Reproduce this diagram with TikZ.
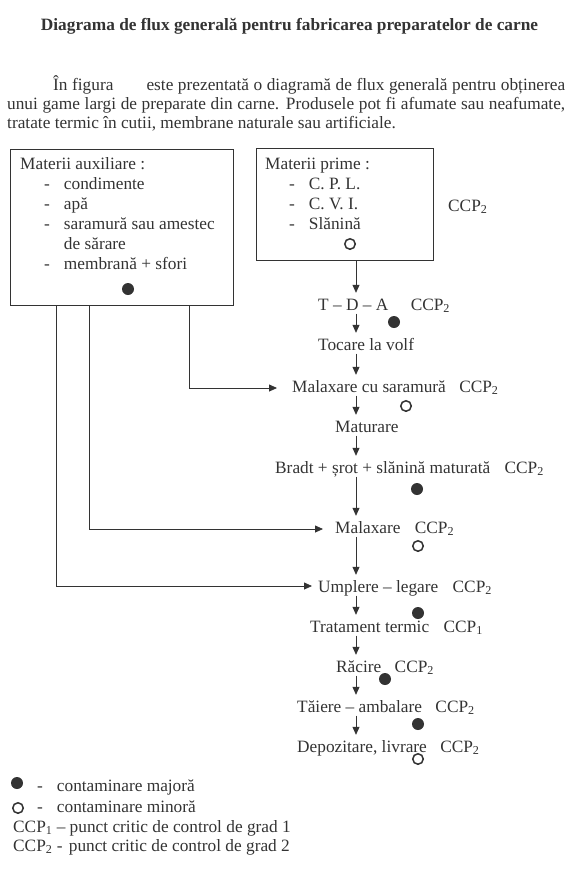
\documentclass[tikz,border=0pt]{standalone}
\usepackage{fontspec}
\setmainfont{Liberation Serif}
\usepackage{xcolor}
\usetikzlibrary{arrows.meta,positioning}
\definecolor{ink}{HTML}{333333}
\newcommand{\ccp}[1]{CCP\textsubscript{#1}}

\tikzset{
  matbox/.style={draw=ink,line width=0.8pt,inner sep=0pt,outer sep=0pt,anchor=north west},
  stage/.style={inner sep=0pt,text height=17pt,text depth=3.5pt,anchor=base west},
  ccplabel/.style={inner sep=0pt},
  flow/.style={draw=ink,line width=0.8pt,-{Triangle[length=8pt,width=7pt]}},
  majordot/.style={circle,fill=ink,inner sep=0pt,minimum size=12pt},
  minordot/.style={circle,draw=ink,line width=1.5pt,inner sep=0pt,minimum size=10.5pt},
}

\begin{document}
\begin{tikzpicture}[x=1pt,y=-1pt,font=\fontsize{17.3}{20}\selectfont,text=ink]
  \useasboundingbox (0,0) rectangle (570,884);

  \node[anchor=base,inner sep=0pt] (title) at (289.5,30)
    {\textbf{Diagrama de flux generală pentru fabricarea preparatelor de carne}};
  \node[anchor=base west,inner sep=0pt,text width=558pt,align=justify,
    font=\fontsize{17.3}{19}\selectfont] (intro) at (7,90)
    {\hspace*{46pt}În figura \hspace{24pt} este prezentată o diagramă de flux generală pentru obținerea\linebreak
     unui game largi de preparate din carne. Produsele pot fi afumate sau neafumate,\linebreak
     tratate termic în cutii, membrane naturale sau artificiale.};

  % materii auxiliare si materii prime
  \node[matbox,minimum width=223pt,minimum height=156pt] (aux) at (10,149) {};
  \node[anchor=base west,inner sep=0pt] (aux-list) at (20,169)
    {\begin{tabular}[t]{@{\hspace{24pt}}l@{\hspace{14pt}}l@{}}
      \multicolumn{2}{@{}l@{}}{Materii auxiliare :}\\
      - & condimente\\
      - & apă\\
      - & saramură sau amestec\\
        & de sărare\\
      - & membrană + sfori
    \end{tabular}};
  \node[majordot] (aux-dot) at (128,289) {};

  \node[matbox,minimum width=177pt,minimum height=112pt] (prime) at (256,148) {};
  \node[anchor=base west,inner sep=0pt] (prime-list) at (265,169)
    {\begin{tabular}[t]{@{\hspace{24pt}}l@{\hspace{14pt}}l@{}}
      \multicolumn{2}{@{}l@{}}{Materii prime :}\\
      - & C. P. L.\\
      - & C. V. I.\\
      - & Slănină
    \end{tabular}};
  \node[minordot] (prime-dot) at (350,244) {};
  \node[anchor=base west,inner sep=0pt] (prime-ccp) at (448,211) {\ccp{2}};

  % fluxul principal
  \coordinate (axis) at (356,0);
  \node[stage] (tda) at (318,310) {T -- D -- A};
  \node[stage] (tocare) at (318,350) {Tocare la volf};
  \node[stage] (malsara) at (292,392) {Malaxare cu saramură};
  \node[stage] (maturare) at (335,432) {Maturare};
  \node[stage] (bradt) at (275,473) {Bradt + șrot + slănină maturată};
  \node[stage] (malax) at (335,533) {Malaxare};
  \node[stage] (umplere) at (318,592) {Umplere -- legare};
  \node[stage] (tratament) at (310,632) {Tratament termic};
  \node[stage] (racire) at (336,672) {Răcire};
  \node[stage] (taiere) at (297,712) {Tăiere -- ambalare};
  \node[stage] (depozit) at (297,752) {Depozitare, livrare};

  \node[ccplabel,base right=22pt of tda] (tda-ccp) {\ccp{2}};
  \node[ccplabel,base right=13pt of malsara] (malsara-ccp) {\ccp{2}};
  \node[ccplabel,base right=14pt of bradt] (bradt-ccp) {\ccp{2}};
  \node[ccplabel,base right=14pt of malax] (malax-ccp) {\ccp{2}};
  \node[ccplabel,base right=14pt of umplere] (umplere-ccp) {\ccp{2}};
  \node[ccplabel,base right=14pt of tratament] (tratament-ccp) {\ccp{1}};
  \node[ccplabel,base right=13pt of racire] (racire-ccp) {\ccp{2}};
  \node[ccplabel,base right=13pt of taiere] (taiere-ccp) {\ccp{2}};
  \node[ccplabel,base right=13pt of depozit] (depozit-ccp) {\ccp{2}};

  \node[majordot] (tda-dot) at (394,322) {};
  \node[minordot] (malsara-dot) at (406,406) {};
  \node[majordot] (bradt-dot) at (417,489) {};
  \node[minordot] (malax-dot) at (418,546) {};
  \node[majordot] (umplere-dot) at (418,613) {};
  \node[majordot] (racire-dot) at (385,679) {};
  \node[majordot] (taiere-dot) at (418,724) {};
  \node[minordot] (depozit-dot) at (418,759) {};

  \draw[flow] (prime.south -| axis) -- (tda.north -| axis);
  \draw[flow] (tda.south -| axis) -- (tocare.north -| axis);
  \draw[flow] (tocare.south -| axis) -- (malsara.north -| axis);
  \draw[flow] (malsara.south -| axis) -- (maturare.north -| axis);
  \draw[flow] (maturare.south -| axis) -- (bradt.north -| axis);
  \draw[flow] (bradt.south -| axis) -- (malax.north -| axis);
  \draw[flow] (malax.south -| axis) -- (umplere.north -| axis);
  \draw[flow] (umplere.south -| axis) -- (tratament.north -| axis);
  \draw[flow] (tratament.south -| axis) -- (racire.north -| axis);
  \draw[flow] (racire.south -| axis) -- (taiere.north -| axis);
  \draw[flow] (taiere.south -| axis) -- (depozit.north -| axis);

  % intrari din materii auxiliare
  \draw[flow,shorten >=15pt] ([xshift=179pt]aux.south west) |- ([yshift=4pt]malsara.base west);
  \draw[flow,shorten >=12pt] ([xshift=79pt]aux.south west) |- ([yshift=4pt]malax.base west);
  \draw[flow,shorten >=6pt] ([xshift=46pt]aux.south west) |- ([yshift=6pt]umplere.base west);

  % legenda
  \node[majordot] (leg-maj-dot) at (17,783) {};
  \node[anchor=base west,inner sep=0pt] (leg-maj) at (37,791) {-\hspace*{14pt}contaminare majoră};
  \node[minordot] (leg-min-dot) at (18,808) {};
  \node[anchor=base west,inner sep=0pt] (leg-min) at (37,812) {-\hspace*{14pt}contaminare minoră};
  \node[anchor=base west,inner sep=0pt] (leg-ccp1) at (13,832) {\ccp{1} -- punct critic de control de grad 1};
  \node[anchor=base west,inner sep=0pt] (leg-ccp2) at (13,851) {\ccp{2} - \hspace{2pt}punct critic de control de grad 2};
\end{tikzpicture}
\end{document}
